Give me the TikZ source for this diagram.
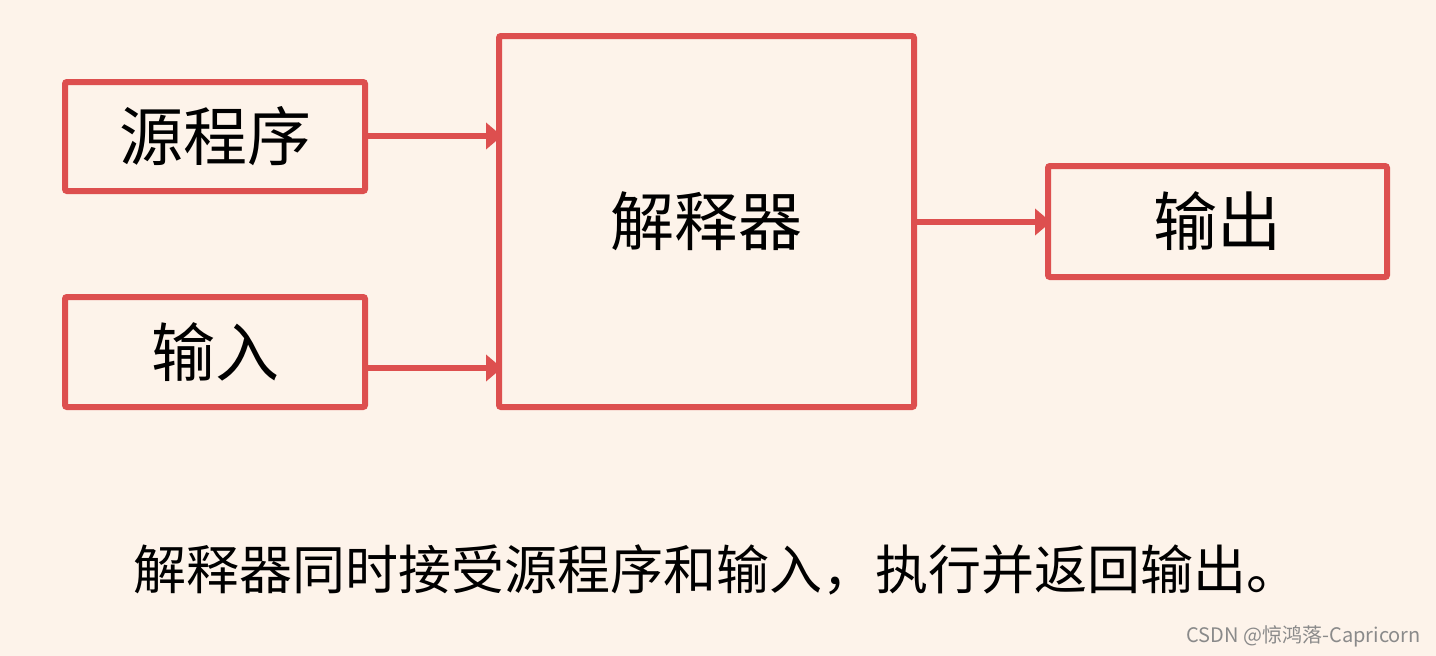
\documentclass[tikz,border=0pt]{standalone}
\usepackage{fontspec}
\setmainfont{Noto Sans CJK SC}
\newfontfamily\cjk{Noto Sans CJK SC}
\usetikzlibrary{arrows.meta}
\definecolor{bgc}{HTML}{FDF3EA}
\definecolor{redc}{HTML}{DD4F4F}
\definecolor{wmc}{HTML}{8A8A8A}
\tikzset{
  box/.style={draw=redc, line width=6pt, rounded corners=2pt, inner sep=0pt},
  conn/.style={draw=redc, line width=6pt, -{Triangle[length=16pt,width=26pt]}, shorten >=-3pt},
  lbl/.style={font=\cjk\fontsize{64}{70}\selectfont, text=black}
}
\begin{document}
\begin{tikzpicture}[x=1pt,y=-1pt]
\fill[bgc] (0,0) rectangle (1436,656);
\useasboundingbox (0,0) rectangle (1436,656);
\draw[box] (65,82) rectangle (365,191);
\node[lbl] (src) at (215,136.5) {源程序};
\coordinate (srcE) at (365,136);
\draw[box] (65,297) rectangle (365,407);
\node[lbl] (inp) at (215,352) {输入};
\coordinate (inpE) at (365,368);
\draw[box] (499,36) rectangle (914,407);
\node[lbl] (itp) at (706.5,221) {解释器};
\coordinate (itpW1) at (499,136);
\coordinate (itpW2) at (499,368);
\coordinate (itpE) at (914,222);
\draw[box] (1048,166) rectangle (1387,277);
\node[lbl] (out) at (1217.5,221.5) {输出};
\coordinate (outW) at (1048,222);
\draw[conn] (srcE) -- (itpW1);
\draw[conn] (inpE) -- (itpW2);
\draw[conn] (itpE) -- (outW);
\node[font=\cjk\fontsize{53}{60}\selectfont, anchor=west, inner sep=0pt] (cap) at (133,570) {解释器同时接受源程序和输入，执行并返回输出。};
\node[font=\cjk\fontsize{20}{24}\selectfont, text=wmc, anchor=east, inner sep=0pt] (wm) at (1421,636) {CSDN @惊鸿落-Capricorn};
\end{tikzpicture}
\end{document}
